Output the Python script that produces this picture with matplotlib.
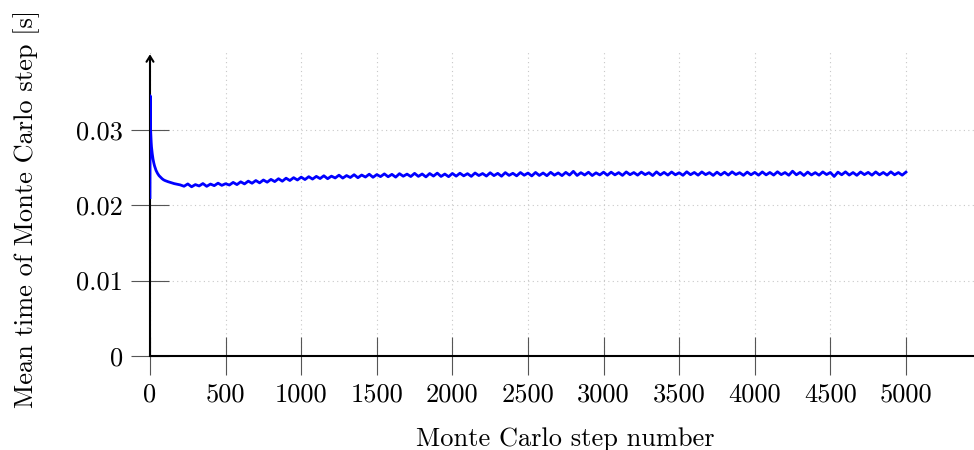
import matplotlib
matplotlib.use("Agg")
import matplotlib.pyplot as plt

plt.rcParams['font.family'] = 'cmr10'
plt.rcParams['mathtext.fontset'] = 'cm'
plt.rcParams['axes.unicode_minus'] = False

# first steps are sampled densely, the rest every 25 steps
early_steps = [0, 1, 2, 4, 6, 8, 10, 15, 20, 25, 30, 40, 50, 60, 70, 80, 90,
               100, 120, 140, 160, 180, 200]
early_time = [0.0210, 0.0345, 0.0318, 0.0300, 0.0290, 0.0283, 0.0277, 0.0268,
              0.0261, 0.0256, 0.0252, 0.0246, 0.0242, 0.0239, 0.0237, 0.0235,
              0.02335, 0.02325, 0.0231, 0.02297, 0.02285, 0.02277, 0.02268]

late_time = [
    # 225 .. 500
    0.02250, 0.02281, 0.02243, 0.02272, 0.02254, 0.02286, 0.02249, 0.02279,
    0.02258, 0.02291, 0.02262, 0.02284,
    # 525 .. 1000
    0.02266, 0.02301, 0.02272, 0.02309, 0.02281, 0.02318, 0.02290, 0.02326,
    0.02295, 0.02333, 0.02304, 0.02341, 0.02312, 0.02350, 0.02317, 0.02357,
    0.02326, 0.02364, 0.02333, 0.02371,
    # 1025 .. 1500
    0.02339, 0.02377, 0.02345, 0.02381, 0.02352, 0.02389, 0.02350, 0.02384,
    0.02360, 0.02397, 0.02358, 0.02392, 0.02366, 0.02403, 0.02363, 0.02399,
    0.02372, 0.02410, 0.02369, 0.02405,
    # 1525 .. 2000
    0.02378, 0.02414, 0.02376, 0.02408, 0.02371, 0.02417, 0.02383, 0.02411,
    0.02379, 0.02421, 0.02381, 0.02413, 0.02374, 0.02419, 0.02385, 0.02424,
    0.02380, 0.02412, 0.02377, 0.02420,
    # 2025 .. 3000
    0.02384, 0.02423, 0.02388, 0.02417, 0.02381, 0.02426, 0.02392, 0.02419,
    0.02385, 0.02429, 0.02391, 0.02421, 0.02383, 0.02431, 0.02394, 0.02422,
    0.02388, 0.02432, 0.02396, 0.02425, 0.02387, 0.02433, 0.02393, 0.02426,
    0.02390, 0.02435, 0.02397, 0.02427, 0.02391, 0.02434, 0.02398, 0.02448,
    0.02393, 0.02430, 0.02399, 0.02436, 0.02392, 0.02428, 0.02400, 0.02437,
    # 3025 .. 5000
    0.02396, 0.02437, 0.02401, 0.02431, 0.02394, 0.02440, 0.02403, 0.02432,
    0.02397, 0.02438, 0.02404, 0.02430, 0.02392, 0.02441, 0.02400, 0.02434,
    0.02398, 0.02439, 0.02402, 0.02429, 0.02395, 0.02442, 0.02403, 0.02433,
    0.02397, 0.02440, 0.02404, 0.02431, 0.02394, 0.02437, 0.02400, 0.02436,
    0.02398, 0.02441, 0.02405, 0.02430, 0.02395, 0.02438, 0.02402, 0.02434,
    0.02397, 0.02440, 0.02401, 0.02433, 0.02398, 0.02442, 0.02404, 0.02432,
    0.02396, 0.02450, 0.02402, 0.02434, 0.02393, 0.02438, 0.02400, 0.02431,
    0.02397, 0.02440, 0.02405, 0.02433, 0.02380, 0.02437, 0.02402, 0.02441,
    0.02398, 0.02432, 0.02395, 0.02439, 0.02404, 0.02434, 0.02397, 0.02440,
    0.02401, 0.02433, 0.02398, 0.02441, 0.02402, 0.02432, 0.02397, 0.02438,
]
late_steps = list(range(225, 5001, 25))

steps = early_steps + late_steps
mean_time = early_time + late_time

x_ticks = [0, 500, 1000, 1500, 2000, 2500, 3000, 3500, 4000, 4500, 5000]
y_ticks = [0, 0.01, 0.02, 0.03]
y_tick_labels = ['0', '0.01', '0.02', '0.03']

fig = plt.figure(figsize=(9.74, 4.5), dpi=100)
ax = fig.add_axes([0.154, 0.2089, 0.846, 0.6756])

ax.plot(steps, mean_time, color='#0000ff', lw=2.0, zorder=3)

ax.set_xlim(0, 5450)
ax.set_ylim(0, 0.0403)
ax.set_xticks(x_ticks)
ax.set_xticklabels([str(t) for t in x_ticks])
ax.set_yticks(y_ticks)
ax.set_yticklabels(y_tick_labels)

ax.grid(True, linestyle=(0, (1, 3)), color='#c8c8c8', lw=0.8)
ax.tick_params(direction='inout', length=27, width=0.8, color='#555555',
               labelsize=19, pad=6)

for side in ['top', 'right', 'left']:
    ax.spines[side].set_visible(False)
ax.spines['bottom'].set_linewidth(1.5)
ax.spines['bottom'].set_zorder(4)

# y axis line with an arrow tip
ax.annotate('', xy=(0, 0.0400), xytext=(0, 0),
            arrowprops=dict(arrowstyle='->,head_length=0.4,head_width=0.25',
                            lw=1.5, color='black', shrinkA=0, shrinkB=0),
            annotation_clip=False, zorder=2)

ax.set_xlabel('Monte Carlo step number', fontsize=19)
ax.set_ylabel('Mean time of Monte Carlo step [s]', fontsize=19)
ax.xaxis.set_label_coords(0.5036, -0.236)
ax.yaxis.set_label_coords(-0.1335, 0.4836)

fig.savefig('out.png', dpi=100)
